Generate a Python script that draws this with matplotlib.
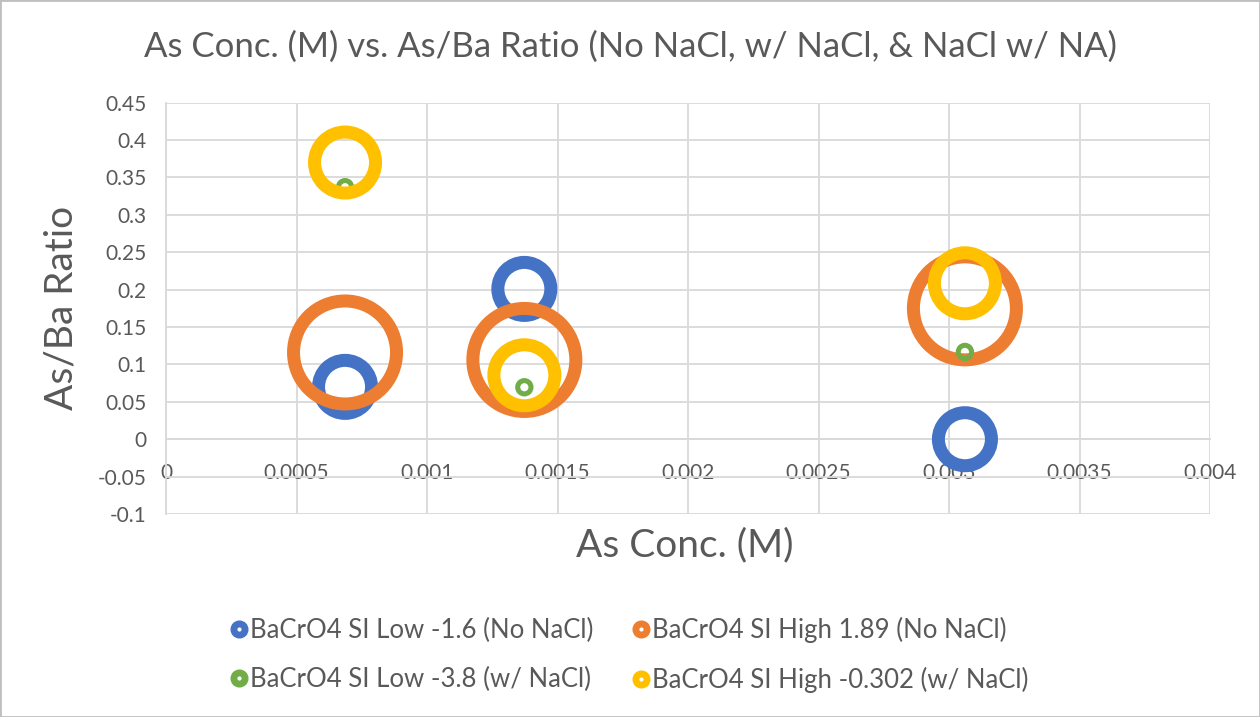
import numpy as np
import matplotlib
matplotlib.use("Agg")
import matplotlib.pyplot as plt
from matplotlib.lines import Line2D
from matplotlib.legend_handler import HandlerTuple
from matplotlib.patches import Rectangle

plt.rcParams['font.family'] = ['Lato', 'DejaVu Sans']

# data: x = As concentration (M), y = As/Ba ratio, size = relative bubble size
series = ["BaCrO4 SI Low -1.6 (No NaCl)", "BaCrO4 SI High 1.89 (No NaCl)",
          "BaCrO4 SI Low -3.8 (w/ NaCl)", "BaCrO4 SI High -0.302 (w/ NaCl)"]
x_low_no = [0.000686, 0.001373, 0.003061]
y_low_no = [0.070, 0.201, 0.0]
x_high_no = [0.000686, 0.001373, 0.003061]
y_high_no = [0.116, 0.106, 0.175]
x_low_w = [0.000686, 0.001373, 0.003061]
y_low_w = [0.337, 0.0695, 0.1167]
x_high_w = [0.000686, 0.001373, 0.003061]
y_high_w = [0.370, 0.0855, 0.2085]
size_low_no = [0.324, 0.324, 0.324]
size_high_no = [1.0, 1.0, 1.0]
size_low_w = [0.025, 0.025, 0.025]
size_high_w = [0.407, 0.407, 0.407]

xs = [x_low_no, x_high_no, x_low_w, x_high_w]
ys = [y_low_no, y_high_no, y_low_w, y_high_w]
sizes = [size_low_no, size_high_no, size_low_w, size_high_w]
colors = ['#4472C4', '#ED7D31', '#70AD47', '#FFC000']

DPI = 100
fig = plt.figure(figsize=(12.6, 7.17), dpi=DPI)
ax = fig.add_axes([166/1260, 1-514/717, (1210-166)/1260, (514-102.7)/717])

px2pt = 72 / DPI
max_r = 58  # outer radius (px) of the largest bubble
for x, y, s, c in zip(xs, ys, sizes, colors):
    r_out = max_r * np.sqrt(np.array(s))
    t = np.minimum(13, 0.55 * r_out)
    d = 2 * (r_out - t / 2) * px2pt
    ax.scatter(x, y, s=d**2, facecolors='none', edgecolors=c,
               linewidths=t * px2pt, clip_on=False, zorder=3)

ax.set_xlim(0, 0.004)
ax.set_ylim(-0.1, 0.45)
ax.set_xticks(np.arange(0, 0.00401, 0.0005))
ax.set_yticks(np.arange(-0.1, 0.4501, 0.05))
ax.set_xticklabels(['0', '0.0005', '0.001', '0.0015', '0.002', '0.0025', '0.003', '0.0035', '0.004'])
ax.set_yticklabels(['-0.1', '-0.05', '0', '0.05', '0.1', '0.15', '0.2', '0.25', '0.3', '0.35', '0.4', '0.45'])
ax.grid(True, color='#D9D9D9', linewidth=1.3, zorder=0)
ax.set_axisbelow(True)
for sp in ['top', 'right']:
    ax.spines[sp].set_visible(False)
ax.spines['bottom'].set_position(('data', 0))
ax.spines['bottom'].set_color('#D9D9D9')
ax.spines['left'].set_color('#D9D9D9')
ax.spines['bottom'].set_linewidth(1.3)
ax.spines['left'].set_linewidth(1.3)
ax.tick_params(axis='both', length=0, labelsize=15, labelcolor='#595959')
ax.tick_params(axis='x', pad=17)
ax.tick_params(axis='y', pad=14)

fig.text(0.5, 1 - 47/717, "As Conc. (M) vs. As/Ba Ratio (No NaCl, w/ NaCl, & NaCl w/ NA)",
         ha='center', va='center', fontsize=25, color='#595959')
fig.text(685/1260, 1 - 545/717, "As Conc. (M)", ha='center', va='center',
         fontsize=28, color='#595959')
fig.text(62/1260, 1 - 308/717, "As/Ba Ratio", ha='center', va='center',
         fontsize=28, color='#595959', rotation=90)

handles = [(Line2D([], [], marker='o', linestyle='none', markersize=12, color=c),
            Line2D([], [], marker='o', linestyle='none', markersize=2, color='white'))
           for c in colors]
order = [0, 2, 1, 3]  # legend fills row by row like the reference
fig.legend([handles[i] for i in order], [series[i] for i in order],
           loc='center', bbox_to_anchor=(0.5, 1 - 655/717), ncol=2,
           frameon=False, fontsize=18.5, labelcolor='#595959',
           handler_map={tuple: HandlerTuple(ndivide=1)},
           handlelength=0.55, handletextpad=0.15, columnspacing=1.6, labelspacing=0.9)

fig.patches.append(Rectangle((0, 0), 1, 1, transform=fig.transFigure, fill=False,
                             edgecolor='#BFBFBF', linewidth=2))

fig.savefig('out.png', dpi=DPI)
